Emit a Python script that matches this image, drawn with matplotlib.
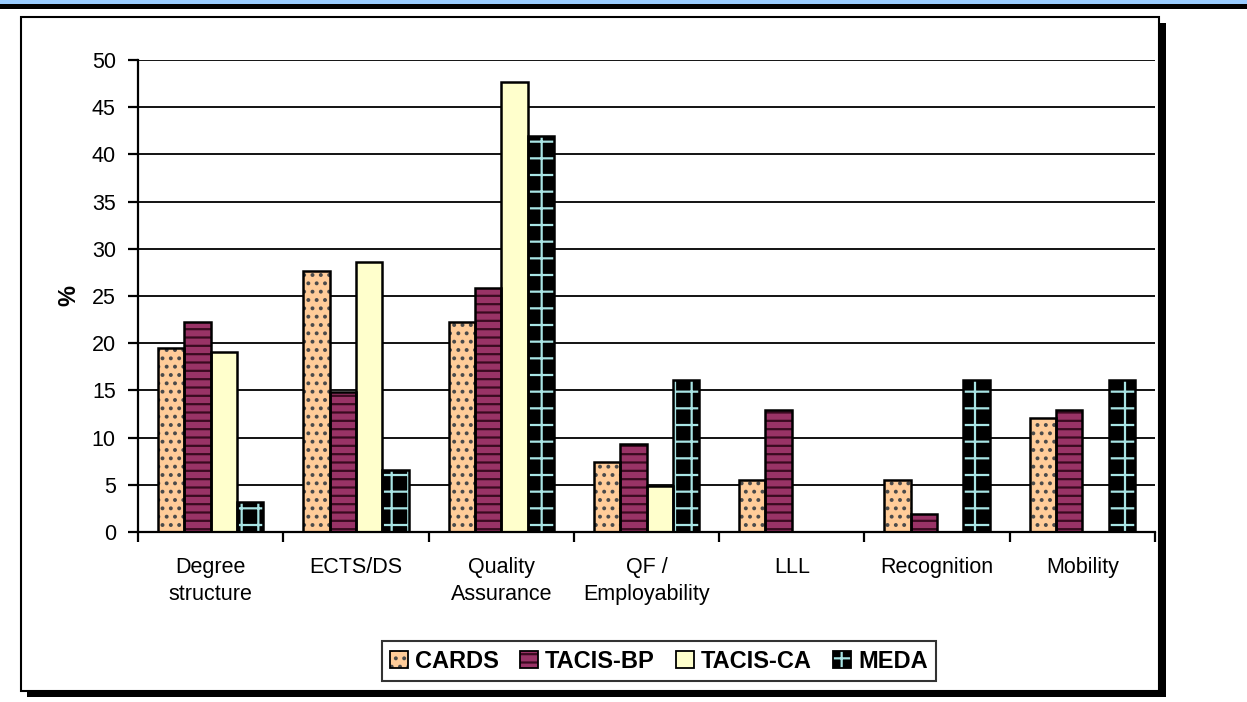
import matplotlib
matplotlib.use("Agg")
import numpy as np
import matplotlib.pyplot as plt
from matplotlib.patches import Rectangle, Patch
from matplotlib.legend_handler import HandlerTuple

plt.rcParams["font.family"] = ["Liberation Sans", "DejaVu Sans"]
plt.rcParams["hatch.linewidth"] = 1.6

categories = ["Degree\nstructure", "ECTS/DS", "Quality\nAssurance", "QF /\nEmployability",
              "LLL", "Recognition", "Mobility"]
series = ["CARDS", "TACIS-BP", "TACIS-CA", "MEDA"]
cards = [19.5, 27.7, 22.2, 7.4, 5.5, 5.5, 12.1]
tacis_bp = [22.2, 14.8, 25.9, 9.3, 12.9, 1.9, 12.9]
tacis_ca = [19.1, 28.6, 47.7, 4.9, 0, 0, 0]
meda = [3.2, 6.6, 42.0, 16.1, 0, 16.1, 16.1]

faces = ["#FFCC99", "#993366", "#FFFFCC", "#000000"]
hatch_colors = ["#4a4a4a", "#3a0a20", "#FFFFCC", "#A8E4E4"]
hatches = ["..", "--", "", "+"]

fig = plt.figure(figsize=(12.47, 7.02), dpi=100)

# top banner
fig.patches.append(Rectangle((0, 1 - 4 / 702), 1, 4 / 702, transform=fig.transFigure,
                             facecolor="#99CCFF", edgecolor="none", zorder=-5))
fig.patches.append(Rectangle((0, 1 - 9 / 702), 1, 5 / 702, transform=fig.transFigure,
                             facecolor="black", edgecolor="none", zorder=-5))
# chart frame with shadow
fig.patches.append(Rectangle((27 / 1247, 1 - 697 / 702), 1139 / 1247, 674 / 702,
                             transform=fig.transFigure, facecolor="black",
                             edgecolor="none", zorder=-5))
fig.patches.append(Rectangle((21 / 1247, 1 - 691 / 702), 1138 / 1247, 674 / 702,
                             transform=fig.transFigure, facecolor="white",
                             edgecolor="black", lw=1.5, zorder=-4))

ax = fig.add_axes([138 / 1247, 1 - 532 / 702, (1155 - 138) / 1247, (532 - 60) / 702])
ax.set_facecolor("none")
ax.set_zorder(1)

x = np.arange(len(categories))
w = 0.181
handles = []
for i, (name, vals) in enumerate(zip(series, [cards, tacis_bp, tacis_ca, meda])):
    pos = x + (i - 1.5) * w
    ax.bar(pos, vals, w, facecolor=faces[i], edgecolor=hatch_colors[i],
           hatch=hatches[i], lw=0, zorder=2)
    ax.bar(pos, vals, w, fill=False, edgecolor="black", lw=1.8, zorder=3)
    handles.append((Patch(facecolor=faces[i], edgecolor=hatch_colors[i], hatch=hatches[i], lw=0),
                    Patch(fill=False, edgecolor="black", lw=1.3)))

ax.set_xlim(-0.5, len(categories) - 0.5)
ax.set_ylim(0, 50)
ax.set_yticks(np.arange(0, 51, 5))
ax.yaxis.grid(True, color="black", lw=1.3)
ax.set_axisbelow(True)
for s in ["top", "right"]:
    ax.spines[s].set_visible(False)
ax.spines["left"].set_linewidth(1.6)
ax.spines["bottom"].set_linewidth(1.6)
ax.spines["left"].set_zorder(4)
ax.spines["bottom"].set_zorder(4)

ax.set_xticks(x)
ax.set_xticklabels(categories, fontsize=15.5, linespacing=1.4, va="top")
ax.set_xticks(np.arange(-0.5, len(categories), 1), minor=True)
ax.tick_params(axis="x", which="major", length=0, pad=18)
ax.tick_params(axis="x", which="minor", length=7, width=1.6, direction="out")
ax.tick_params(axis="y", length=7, width=1.6, direction="out", labelsize=15.5, pad=9)
ax.set_ylabel("%", fontsize=17, fontweight="bold", labelpad=8)

leg = fig.legend(handles, series, loc="center", bbox_to_anchor=(659 / 1247, 1 - 661 / 702),
                 ncol=4, frameon=True, fancybox=False, edgecolor="black",
                 prop={"weight": "bold", "size": 17}, handlelength=0.75, handleheight=0.75,
                 handletextpad=0.3, columnspacing=0.9, borderpad=0.35,
                 handler_map={tuple: HandlerTuple(ndivide=1)})
leg.get_frame().set_linewidth(1.5)

fig.savefig("out.png", dpi=100)
